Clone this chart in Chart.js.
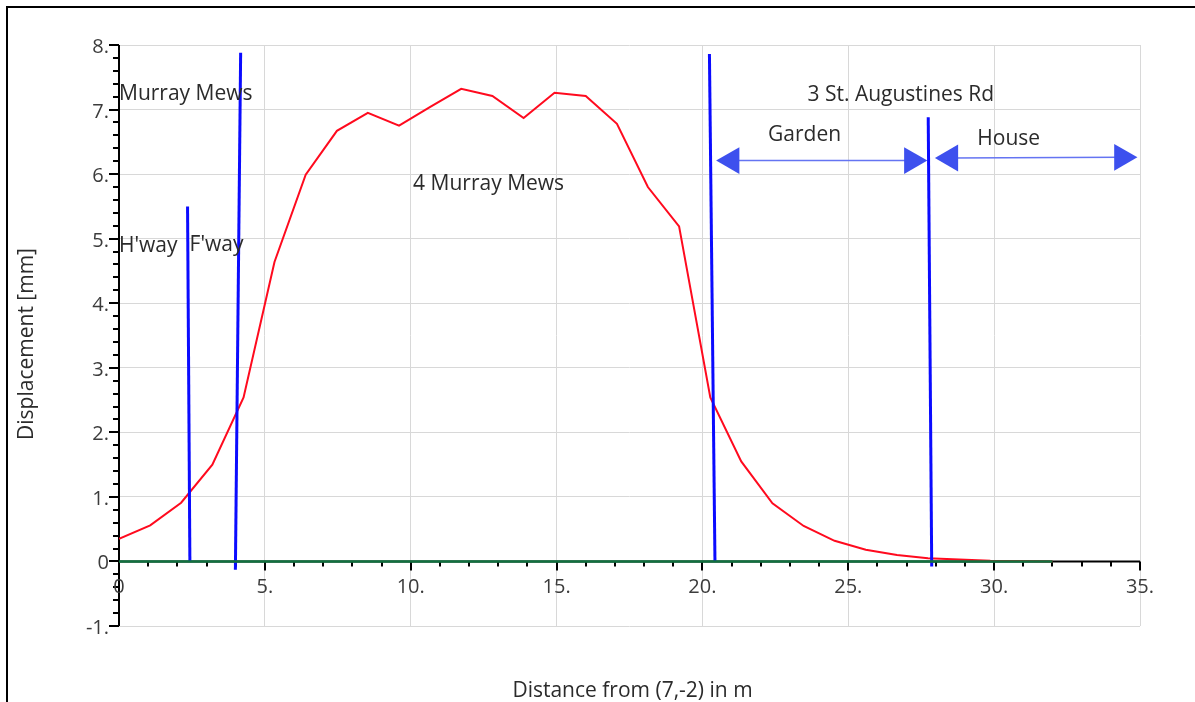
<!DOCTYPE html>
<html>
<head>
<meta charset="utf-8">
<script src="https://cdn.jsdelivr.net/npm/chart.js@4.4.1/dist/chart.umd.min.js"></script>
<style>
	html, body { margin: 0; padding: 0; background: #fff; overflow: hidden; }
	#frame { position: absolute; left: 6px; top: 6px; width: 1400px; height: 900px; border: 2px solid #000; }
	#wrap { position: absolute; left: 0; top: 0; width: 1195px; height: 702px; }
</style>
</head>
<body>
<div id="frame"></div>
<div id="wrap"><canvas id="chart"></canvas></div>
<script>
/* ----- Data ----- */

// Settlement profile
const distance = [0, 1.07, 2.13, 3.2, 4.27, 5.33, 6.4, 7.47, 8.53, 9.6, 10.67, 11.73, 12.8, 13.87, 14.93, 16.0,
	17.07, 18.13, 19.2, 20.27, 21.33, 22.4, 23.47, 24.53, 25.6, 26.67, 27.73, 28.8, 29.87, 30.93, 32.0];
const displacement = [0.35, 0.56, 0.91, 1.5, 2.54, 4.64, 5.99, 6.67, 6.95, 6.75, 7.04, 7.32, 7.21, 6.87, 7.26, 7.21,
	6.78, 5.8, 5.19, 2.54, 1.55, 0.9, 0.55, 0.32, 0.18, 0.1, 0.05, 0.03, 0.01, 0.005, 0];

// Zero line
const baselineX = [0, 32];
const baselineY = [0, 0];

// Property boundaries (top and bottom end of each line)
const boundaryTopX = [2.35, 4.17, 20.24, 27.74];
const boundaryTopY = [5.5, 7.88, 7.86, 6.88];
const boundaryBottomX = [2.43, 3.99, 20.43, 27.86];
const boundaryBottomY = [0, -0.13, 0, -0.08];

// Dimension arrows (centres of the arrow heads)
const gardenArrowX = [21.0, 27.18];
const gardenArrowY = [6.21, 6.21];
const houseArrowX = [28.5, 34.38];
const houseArrowY = [6.25, 6.26];

// Text labels
const labelText = ['Murray Mews', "H'way", "F'way", '4 Murray Mews', '3 St. Augustines Rd', 'Garden', 'House'];
const labelX = [0, 0, 2.42, 12.67, 26.8, 23.5, 30.5];
const labelY = [7.15, 4.8, 4.81, 5.75, 7.14, 6.52, 6.45];
const labelAlign = ['left', 'left', 'left', 'center', 'center', 'center', 'center'];

// Axes
const xTickValues = [0, 5, 10, 15, 20, 25, 30, 35];
const xTickLabels = ['0', '5.', '10.', '15.', '20.', '25.', '30.', '35.'];
const yTickValues = [-1, 0, 1, 2, 3, 4, 5, 6, 7, 8];
const yTickLabels = ['-1.', '0', '1.', '2.', '3.', '4.', '5.', '6.', '7.', '8.'];
const xTitle = 'Distance from (7,-2) in m';
const yTitle = 'Displacement [mm]';

/* ----- Helpers ----- */

const FONT = '"Open Sans", "Segoe UI", sans-serif';
const zip = (xs, ys) => xs.map((x, i) => ({ x: x, y: ys[i] }));

const boundarySets = boundaryTopX.map((tx, i) => ({
	data: [{ x: tx, y: boundaryTopY[i] }, { x: boundaryBottomX[i], y: boundaryBottomY[i] }],
	borderColor: '#0b0bff',
	borderWidth: 3,
	pointRadius: 0,
	order: 1
}));

const arrowSet = (xs, ys) => ({
	data: zip(xs, ys),
	borderColor: '#6474f2',
	borderWidth: 1.5,
	pointStyle: 'triangle',
	pointRadius: 15.5,
	pointRotation: [-90, 90],
	pointBackgroundColor: '#3d50ee',
	pointBorderColor: '#3d50ee',
	pointBorderWidth: 0,
	order: 2
});

/* ----- Axis and label drawing ----- */

const decorPlugin = {
	id: 'decor',
	beforeDatasetsDraw(chart) {
		const { ctx, scales: { x, y } } = chart;
		const x0 = x.getPixelForValue(0);
		const y0 = y.getPixelForValue(0);
		ctx.save();
		ctx.strokeStyle = '#000';
		ctx.lineWidth = 2;

		// axis lines
		ctx.beginPath();
		ctx.moveTo(x0, y.getPixelForValue(8));
		ctx.lineTo(x0, y.getPixelForValue(-1));
		ctx.moveTo(x0, y0);
		ctx.lineTo(x.getPixelForValue(35), y0);
		ctx.stroke();

		// y ticks, minor every 0.2
		ctx.beginPath();
		for (let i = -5; i <= 40; i++) {
			const py = Math.round(y.getPixelForValue(i / 5));
			ctx.moveTo(x0, py);
			ctx.lineTo(x0 - (i % 5 === 0 ? 10 : 6), py);
		}
		// x ticks, minor every 1
		for (let i = 1; i <= 35; i++) {
			const px = Math.round(x.getPixelForValue(i));
			ctx.moveTo(px, y0);
			ctx.lineTo(px, y0 + (i % 5 === 0 ? 9 : 5));
		}
		ctx.stroke();
		ctx.restore();
	},
	afterDatasetsDraw(chart) {
		const { ctx, chartArea, scales: { x, y } } = chart;
		const x0 = x.getPixelForValue(0);
		const y0 = y.getPixelForValue(0);
		ctx.save();
		ctx.textBaseline = 'alphabetic';

		// tick labels
		ctx.font = '20px ' + FONT;
		ctx.fillStyle = '#3c3c3c';
		ctx.textAlign = 'right';
		yTickValues.forEach((v, i) => ctx.fillText(yTickLabels[i], x0 - 10, y.getPixelForValue(v) + 8));
		ctx.textAlign = 'center';
		xTickValues.forEach((v, i) => ctx.fillText(xTickLabels[i], x.getPixelForValue(v), y0 + 32));

		// annotations
		ctx.font = '21px ' + FONT;
		ctx.fillStyle = '#2b2b2b';
		labelText.forEach((t, i) => {
			ctx.textAlign = labelAlign[i];
			ctx.fillText(t, x.getPixelForValue(labelX[i]), y.getPixelForValue(labelY[i]));
		});

		// axis titles
		ctx.textAlign = 'center';
		ctx.fillText(xTitle, (chartArea.left + chartArea.right) / 2 + 3, 697);
		ctx.translate(33, 344);
		ctx.rotate(-Math.PI / 2);
		ctx.fillText(yTitle, 0, 0);
		ctx.restore();
	}
};

/* ----- Chart ----- */

const chart = new Chart(document.getElementById('chart'), {
	type: 'line',
	data: {
		datasets: [
			{
				data: zip(baselineX, baselineY),
				borderColor: '#11703f',
				borderWidth: 2.5,
				pointRadius: 0,
				order: 0
			},
			...boundarySets,
			arrowSet(gardenArrowX, gardenArrowY),
			arrowSet(houseArrowX, houseArrowY),
			{
				data: zip(distance, displacement),
				borderColor: '#ff0a1e',
				borderWidth: 2,
				pointRadius: 0,
				order: 3
			}
		]
	},
	options: {
		responsive: true,
		maintainAspectRatio: false,
		animation: false,
		events: [],
		layout: { padding: { left: 119, right: 55, top: 45, bottom: 76 } },
		plugins: { legend: { display: false }, tooltip: { enabled: false } },
		scales: {
			x: {
				type: 'linear',
				min: 0,
				max: 35,
				ticks: { stepSize: 5, display: false },
				grid: { color: '#d8d8d8', lineWidth: 1, drawTicks: false },
				border: { display: false }
			},
			y: {
				type: 'linear',
				min: -1,
				max: 8,
				ticks: { stepSize: 1, display: false },
				grid: { color: '#d8d8d8', lineWidth: 1, drawTicks: false },
				border: { display: false }
			}
		}
	},
	plugins: [decorPlugin]
});
</script>
</body>
</html>
